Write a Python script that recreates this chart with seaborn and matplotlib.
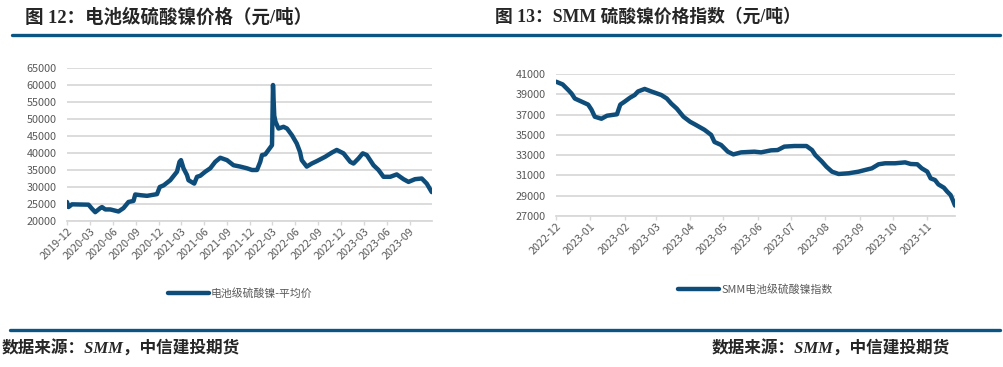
import pandas as pd
import matplotlib
matplotlib.use('Agg')
import matplotlib.pyplot as plt
import matplotlib.dates as mdates
import seaborn as sns

# 电池级硫酸镍-平均价 (元/吨)
left_dates = ['2019-12-01', '2019-12-07', '2019-12-21', '2020-02-25', '2020-03-10', '2020-03-23',
              '2020-04-12', '2020-04-19', '2020-05-02', '2020-05-22', '2020-06-24', '2020-07-14',
              '2020-08-03', '2020-08-23', '2020-08-30', '2020-09-19', '2020-10-16', '2020-11-25',
              '2020-12-06', '2020-12-22', '2021-01-17', '2021-02-13', '2021-02-23', '2021-03-01',
              '2021-03-11', '2021-03-25', '2021-03-31', '2021-04-23', '2021-05-04', '2021-05-17',
              '2021-06-06', '2021-06-26', '2021-07-16', '2021-08-05', '2021-09-01', '2021-09-27',
              '2021-10-24', '2021-11-20', '2021-12-10', '2021-12-30', '2022-01-12', '2022-01-19',
              '2022-02-01', '2022-02-14', '2022-02-28', '2022-03-04', '2022-03-09', '2022-03-14',
              '2022-03-26', '2022-04-15', '2022-04-29', '2022-05-19', '2022-06-07', '2022-06-20',
              '2022-06-27', '2022-07-17', '2022-08-06', '2022-08-26', '2022-09-29', '2022-10-25',
              '2022-11-14', '2022-12-11', '2023-01-07', '2023-01-20', '2023-02-09', '2023-02-26',
              '2023-03-14', '2023-04-10', '2023-04-30', '2023-05-20', '2023-06-16', '2023-07-12',
              '2023-08-08', '2023-08-28', '2023-09-23', '2023-10-20', '2023-11-09', '2023-11-29']
left_values = [25600, 24100, 24900, 24800, 23600, 22600,
               23800, 24100, 23400, 23400, 22800, 23800,
               25600, 25900, 27800, 27600, 27400, 27900,
               30000, 30500, 32000, 34500, 37400, 37900,
               35500, 33500, 32000, 31000, 33000, 33300,
               34500, 35500, 37400, 38600, 37900, 36400,
               36000, 35500, 35000, 35000, 37400, 39400,
               39600, 40900, 42300, 60000, 51000, 49200,
               47200, 47700, 47200, 45200, 42800, 40300,
               37900, 36000, 36900, 37600, 38900, 40100,
               40900, 39900, 37400, 36900, 38400, 39900,
               39400, 36400, 35000, 33000, 33000, 33700,
               32300, 31500, 32300, 32500, 31000, 28500]

# SMM电池级硫酸镍指数 (元/吨)
right_dates = ['2022-12-01', '2022-12-07', '2022-12-12', '2022-12-15', '2022-12-18', '2022-12-24',
               '2022-12-30', '2023-01-02', '2023-01-05', '2023-01-11', '2023-01-16', '2023-01-25',
               '2023-01-28', '2023-02-01', '2023-02-06', '2023-02-10', '2023-02-13', '2023-02-19',
               '2023-02-25', '2023-03-06', '2023-03-11', '2023-03-15', '2023-03-20', '2023-03-26',
               '2023-04-01', '2023-04-06', '2023-04-14', '2023-04-20', '2023-04-23', '2023-04-29',
               '2023-05-05', '2023-05-10', '2023-05-17', '2023-05-29', '2023-06-04', '2023-06-13',
               '2023-06-19', '2023-06-25', '2023-07-04', '2023-07-15', '2023-07-20', '2023-07-23',
               '2023-07-29', '2023-08-02', '2023-08-07', '2023-08-13', '2023-08-22', '2023-08-31',
               '2023-09-06', '2023-09-12', '2023-09-18', '2023-09-24', '2023-10-03', '2023-10-12',
               '2023-10-17', '2023-10-23', '2023-10-27', '2023-11-01', '2023-11-04', '2023-11-08',
               '2023-11-11', '2023-11-16', '2023-11-19', '2023-11-22', '2023-11-24', '2023-11-26']
right_values = [40270, 40000, 39450, 39100, 38600, 38300,
                38000, 37500, 36800, 36600, 36900, 37040,
                38000, 38300, 38700, 38950, 39300, 39550,
                39300, 38950, 38600, 38100, 37600, 36800,
                36300, 36000, 35500, 35000, 34300, 34000,
                33340, 33070, 33270, 33340, 33270, 33470,
                33500, 33840, 33900, 33900, 33500, 33000,
                32350, 31850, 31360, 31130, 31200, 31360,
                31530, 31690, 32090, 32190, 32190, 32280,
                32120, 32090, 31690, 31360, 30700, 30530,
                30100, 29770, 29380, 29050, 28550, 28000]

left_ticks = ['2019-12', '2020-03', '2020-06', '2020-09', '2020-12', '2021-03', '2021-06', '2021-09',
              '2021-12', '2022-03', '2022-06', '2022-09', '2022-12', '2023-03', '2023-06', '2023-09']
right_ticks = ['2022-12', '2023-01', '2023-02', '2023-03', '2023-04', '2023-05',
               '2023-06', '2023-07', '2023-08', '2023-09', '2023-10', '2023-11']

sns.set_style('white')
plt.rcParams['font.family'] = ['Noto Sans CJK SC', 'DejaVu Sans']

blue = '#0e4d7a'
grey = '#595959'
grid = '#d9d9d9'
serif_cjk = ['Liberation Serif', 'Noto Sans CJK SC']

fig = plt.figure(figsize=(10.04, 3.67), dpi=100)
ax1 = fig.add_axes([67 / 1004, 1 - 221 / 367, 365 / 1004, 153 / 367])
ax2 = fig.add_axes([556 / 1004, 1 - 215.7 / 367, 399 / 1004, 141.4 / 367])

dfl = pd.DataFrame({'date': pd.to_datetime(left_dates), 'value': left_values})
dfr = pd.DataFrame({'date': pd.to_datetime(right_dates), 'value': right_values})

sns.lineplot(data=dfl, x='date', y='value', ax=ax1, color=blue, linewidth=3.2,
             label='电池级硫酸镍-平均价', solid_joinstyle='round', solid_capstyle='round')
sns.lineplot(data=dfr, x='date', y='value', ax=ax2, color=blue, linewidth=3.2,
             label='SMM电池级硫酸镍指数', solid_joinstyle='round', solid_capstyle='round')


def style_axis(ax, ticks, ylo, yhi, ystep, xend):
    ax.set_ylim(ylo, yhi)
    ax.set_yticks(range(ylo, yhi + 1, ystep))
    ax.set_xlim(pd.Timestamp(ticks[0] + '-01'), pd.Timestamp(xend))
    ax.set_xticks(pd.to_datetime([t + '-01' for t in ticks]))
    ax.xaxis.set_major_formatter(mdates.DateFormatter('%Y-%m'))
    ax.grid(axis='y', color=grid, linewidth=1.3)
    ax.set_axisbelow(True)
    for s in ['top', 'right', 'left']:
        ax.spines[s].set_visible(False)
    ax.spines['bottom'].set_color(grid)
    ax.spines['bottom'].set_linewidth(1.3)
    ax.tick_params(axis='x', bottom=True, length=3, color=grid, width=1,
                   labelsize=7.8, labelcolor=grey, pad=1)
    ax.tick_params(axis='y', left=False, labelsize=7.8, labelcolor=grey, pad=4)
    for lab in ax.get_xticklabels():
        lab.set_rotation(45)
        lab.set_ha('right')
        lab.set_rotation_mode('anchor')
    ax.set_xlabel('')
    ax.set_ylabel('')


style_axis(ax1, left_ticks, 20000, 65000, 5000, '2023-11-30')
style_axis(ax2, right_ticks, 27000, 41000, 2000, '2023-11-26')

ax1.legend(loc='center', bbox_to_anchor=(240 / 1004, 1 - 293 / 367), bbox_transform=fig.transFigure,
           frameon=False, fontsize=7.8, labelcolor=grey, handlelength=3.8, handletextpad=0.2)
ax2.legend(loc='center', bbox_to_anchor=(755 / 1004, 1 - 289 / 367), bbox_transform=fig.transFigure,
           frameon=False, fontsize=7.8, labelcolor=grey, handlelength=3.8, handletextpad=0.2)

# headers
fig.text(25 / 1004, 1 - 17 / 367, '图 12：电池级硫酸镍价格（元/吨）', family=serif_cjk,
         fontsize=13.3, fontweight='bold', va='center', ha='left')
fig.text(495 / 1004, 1 - 17 / 367, '图 13：SMM 硫酸镍价格指数（元/吨）', family=serif_cjk,
         fontsize=12.8, fontweight='bold', va='center', ha='left')
fig.add_artist(plt.Line2D([12 / 1004, 1000 / 1004], [1 - 34.5 / 367] * 2, color='#0b5585', linewidth=2.4))
fig.add_artist(plt.Line2D([10 / 1004, 1000 / 1004], [1 - 330 / 367] * 2, color='#0b5585', linewidth=2.4))

# footers
fig.text(2 / 1004, 1 - 349 / 367, '数据来源：SMM，中信建投期货', family=serif_cjk,
         fontsize=12, fontweight='bold', style='italic', va='center', ha='left')
fig.text(712 / 1004, 1 - 349 / 367, '数据来源：SMM，中信建投期货', family=serif_cjk,
         fontsize=12, fontweight='bold', style='italic', va='center', ha='left')

fig.savefig('out.png', dpi=100)
